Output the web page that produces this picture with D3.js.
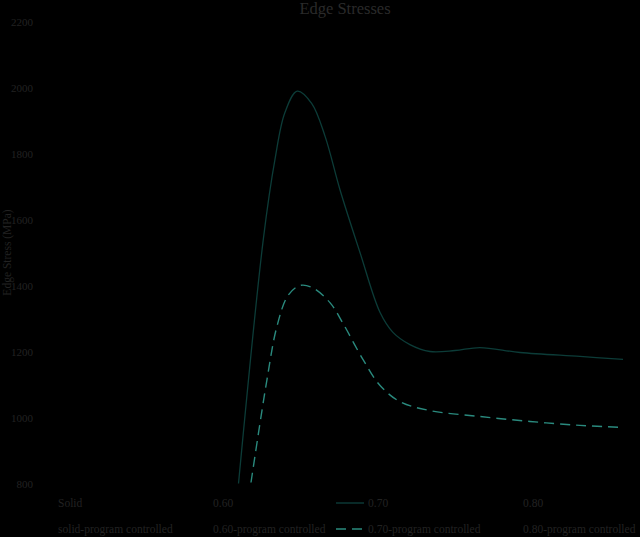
<!DOCTYPE html>
<html>
<head>
<meta charset="utf-8">
<script src="https://cdn.jsdelivr.net/npm/d3@7"></script>
<style>
	html, body { margin: 0; padding: 0; background: #000; }
	svg { display: block; font-family: 'Liberation Serif', 'DejaVu Serif', serif; }
</style>
</head>
<body>
<div id="chart"></div>
<script>
// position along the edge (arbitrary units, no x axis shown)
const solidX = [10.18, 11.45, 12.05, 12.56, 13.19, 13.93, 14.62, 15.38, 16.41, 17.44, 18.1, 18.97, 20.0, 21.28, 22.56, 24.62, 27.69, 29.9];
const solidY = [800, 1539, 1782, 1924, 1989, 1952, 1852, 1691, 1500, 1318, 1258, 1221, 1200, 1203, 1212, 1197, 1185, 1176];

const progX = [10.82, 11.64, 12.15, 12.72, 13.33, 13.95, 14.87, 15.54, 16.56, 17.44, 18.46, 20.0, 22.56, 25.13, 27.69, 29.9];
const progY = [803, 1115, 1276, 1370, 1400, 1394, 1348, 1285, 1176, 1097, 1048, 1021, 1003, 988, 976, 970];

const yTicks = [800, 1000, 1200, 1400, 1600, 1800, 2000, 2200];

const legendRow1 = ['Solid', '0.60', '0.70', '0.80'];
const legendRow2 = ['solid-program controlled', '0.60-program controlled', '0.70-program controlled', '0.80-program controlled'];
const legendColors = ['#000', '#000', '#0c3c38', '#000'];

const textColor = '#222';
const width = 640;
const height = 537;
const margin = { top: 22, right: 15, bottom: 53, left: 40 };

const svg = d3.select('#chart').append('svg')
	.attr('width', width)
	.attr('height', height)
	.style('background', '#000');

const xScale = d3.scaleLinear()
	.domain([0, 30])
	.range([margin.left, margin.left + 585]);

const yScale = d3.scaleLinear()
	.domain([800, 2200])
	.range([height - margin.bottom - 0.5, margin.top - 0.5]);

// title
svg.append('text')
	.attr('x', 345)
	.attr('y', 14)
	.attr('text-anchor', 'middle')
	.attr('fill', '#2a2a2a')
	.style('font-size', '16.5px')
	.text('Edge Stresses');

// y axis (labels only)
const yAxis = d3.axisLeft(yScale)
	.tickValues(yTicks)
	.tickSize(0)
	.tickPadding(7)
	.tickFormat(d3.format('d'));

const yG = svg.append('g')
	.attr('transform', `translate(${margin.left},0)`)
	.call(yAxis);
yG.select('.domain').remove();
yG.selectAll('text')
	.attr('fill', textColor)
	.style('font-family', "'Liberation Serif', serif")
	.style('font-size', '11px');

svg.append('text')
	.attr('transform', `translate(11,${(yScale(800) + yScale(2200)) / 2}) rotate(-90)`)
	.attr('text-anchor', 'middle')
	.attr('fill', textColor)
	.style('font-size', '11.5px')
	.text('Edge Stress (MPa)');

// lines
const line = d3.line()
	.x((d) => xScale(d[0]))
	.y((d) => yScale(d[1]))
	.curve(d3.curveCatmullRom.alpha(0.5));

svg.append('path')
	.datum(d3.zip(solidX, solidY))
	.attr('d', line)
	.attr('fill', 'none')
	.attr('stroke', '#0c3c38')
	.attr('stroke-width', 1.3);

svg.append('path')
	.datum(d3.zip(progX, progY))
	.attr('d', line)
	.attr('fill', 'none')
	.attr('stroke', '#2a8a7e')
	.attr('stroke-width', 1.4)
	.attr('stroke-dasharray', '10,6');

// legend
const legendX = d3.scalePoint()
	.domain(d3.range(4))
	.range([58, 523]);

const drawRow = (labels, y, dashed) => {
	labels.forEach((label, i) => {
		const x = legendX(i);
		svg.append('line')
			.attr('x1', x - 32)
			.attr('x2', x - 4)
			.attr('y1', y)
			.attr('y2', y)
			.attr('stroke', dashed && i === 2 ? '#2a8a7e' : legendColors[i])
			.attr('stroke-width', 1.4)
			.attr('stroke-dasharray', dashed ? '10,6' : null);
		svg.append('text')
			.attr('x', x)
			.attr('y', y + 4)
			.attr('fill', textColor)
			.style('font-size', '11.5px')
			.text(label);
	});
};

drawRow(legendRow1, 503, false);
drawRow(legendRow2, 529, true);
</script>
</body>
</html>
